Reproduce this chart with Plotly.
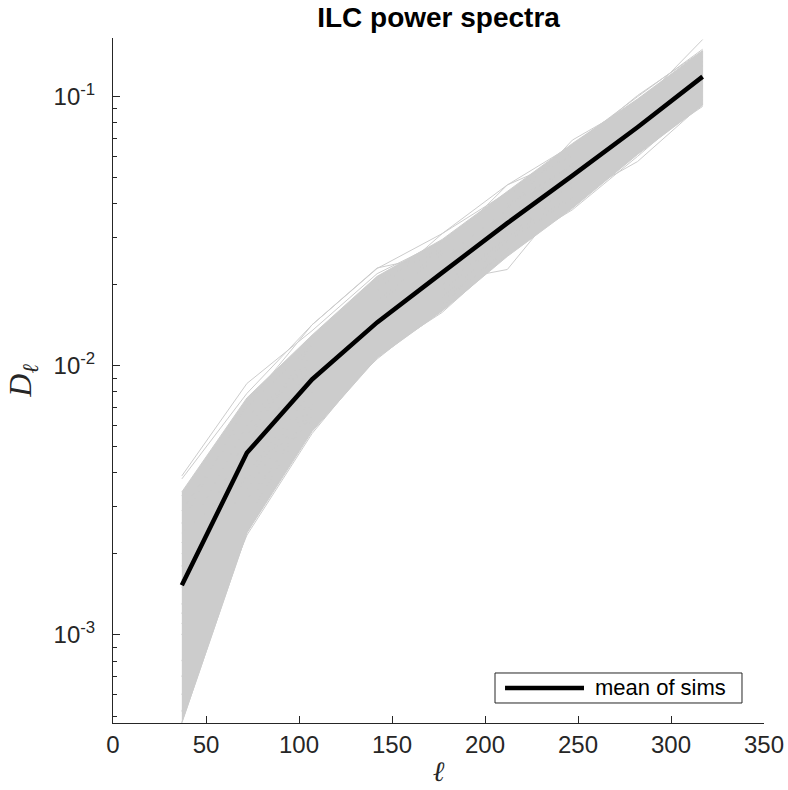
import plotly.graph_objects as go

# Multipole bin centres
ell = [37, 72, 107, 142, 177, 212, 247, 282, 317]

# Mean of simulations (black curve)
mean_dl = [1.53e-3, 4.75e-3, 8.9e-3, 1.45e-2, 2.22e-2, 3.39e-2, 5.09e-2, 7.7e-2, 0.1187]

# Dense region of the simulation bundle (lower / upper edges)
band_lo = [4.72e-4, 2.4e-3, 5.7e-3, 1.07e-2, 1.6e-2, 2.55e-2, 3.85e-2, 6.1e-2, 9.3e-2]
band_hi = [3.4e-3, 7.6e-3, 1.3e-2, 2.15e-2, 2.95e-2, 4.45e-2, 6.7e-2, 9.8e-2, 0.148]

# Individual simulations (visible edge / outlier curves)
sim01 = [3.9e-3, 8.6e-3, 1.35e-2, 2.2e-2, 2.9e-2, 4.3e-2, 6.2e-2, 9.0e-2, 0.135]
sim02 = [3.8e-3, 7.9e-3, 1.42e-2, 2.3e-2, 3.1e-2, 4.7e-2, 6.6e-2, 0.100, 0.150]
sim03 = [2.6e-3, 7.2e-3, 1.42e-2, 2.31e-2, 2.6e-2, 4.0e-2, 5.5e-2, 8.0e-2, 0.120]
sim04 = [1.2e-3, 4.8e-3, 9.5e-3, 1.5e-2, 2.3e-2, 3.6e-2, 5.6e-2, 9.2e-2, 0.163]
sim05 = [1.0e-3, 4.0e-3, 8.0e-3, 1.3e-2, 2.05e-2, 2.28e-2, 4.5e-2, 7.0e-2, 0.110]
sim06 = [8.0e-4, 3.2e-3, 6.5e-3, 1.2e-2, 1.8e-2, 2.9e-2, 4.2e-2, 5.74e-2, 0.094]
sim07 = [4.72e-4, 2.4e-3, 6.0e-3, 1.15e-2, 1.9e-2, 3.0e-2, 4.6e-2, 7.2e-2, 0.110]
sim08 = [6.0e-4, 2.35e-3, 5.6e-3, 1.1e-2, 1.7e-2, 2.7e-2, 4.0e-2, 6.3e-2, 0.100]
sim09 = [1.5e-3, 4.5e-3, 8.5e-3, 1.4e-2, 2.0e-2, 3.0e-2, 4.3e-2, 6.3e-2, 0.092]
sim10 = [2.0e-3, 4.2e-3, 6.2e-3, 1.06e-2, 1.65e-2, 3.0e-2, 4.8e-2, 7.0e-2, 0.115]
sim11 = [1.8e-3, 5.5e-3, 1.1e-2, 1.9e-2, 3.1e-2, 4.4e-2, 6.3e-2, 9.0e-2, 0.130]
sim12 = [2.2e-3, 6.0e-3, 1.05e-2, 1.75e-2, 2.7e-2, 4.7e-2, 6.0e-2, 8.5e-2, 0.125]
sim13 = [1.3e-3, 5.0e-3, 9.8e-3, 1.6e-2, 2.5e-2, 3.8e-2, 6.9e-2, 9.5e-2, 0.140]
sim14 = [2.9e-3, 6.5e-3, 1.0e-2, 1.7e-2, 2.6e-2, 4.2e-2, 6.4e-2, 0.101, 0.148]
sim15 = [7.0e-4, 3.0e-3, 7.0e-3, 1.2e-2, 1.75e-2, 2.7e-2, 3.8e-2, 6.0e-2, 0.097]
sim16 = [1.1e-3, 3.5e-3, 7.2e-3, 1.1e-2, 1.58e-2, 2.6e-2, 4.1e-2, 6.6e-2, 0.105]
sim17 = [3.3e-3, 7.0e-3, 1.2e-2, 1.8e-2, 2.4e-2, 3.5e-2, 5.0e-2, 7.5e-2, 0.120]
sim18 = [5.2e-4, 2.7e-3, 6.8e-3, 1.3e-2, 2.1e-2, 3.2e-2, 5.3e-2, 8.0e-2, 0.125]
sim19 = [1.6e-3, 5.2e-3, 1.2e-2, 2.05e-2, 2.75e-2, 3.9e-2, 5.6e-2, 8.5e-2, 0.130]
sim20 = [2.4e-3, 3.8e-3, 7.5e-3, 1.35e-2, 2.2e-2, 3.4e-2, 5.2e-2, 7.8e-2, 0.108]
sims = [sim01, sim02, sim03, sim04, sim05, sim06, sim07, sim08, sim09, sim10,
        sim11, sim12, sim13, sim14, sim15, sim16, sim17, sim18, sim19, sim20]

# Axis ticks
x_ticks = [0, 50, 100, 150, 200, 250, 300, 350]
y_ticks = [1e-3, 1e-2, 1e-1]
y_ticktext = ["10<sup>-3</sup>", "10<sup>-2</sup>", "10<sup>-1</sup>"]
y_minor = [5e-4, 6e-4, 7e-4, 8e-4, 9e-4,
           2e-3, 3e-3, 4e-3, 5e-3, 6e-3, 7e-3, 8e-3, 9e-3,
           2e-2, 3e-2, 4e-2, 5e-2, 6e-2, 7e-2, 8e-2, 9e-2]
y_range = [-3.327, -0.782]

GRAY = "#cccccc"
AX = "#262626"

fig = go.Figure()

# dense bundle of simulations
fig.add_trace(go.Scatter(
    x=ell + ell[::-1], y=band_hi + band_lo[::-1],
    fill="toself", fillcolor=GRAY, mode="lines",
    line=dict(color=GRAY, width=1), showlegend=False, hoverinfo="skip"))

for s in sims:
    fig.add_trace(go.Scatter(x=ell, y=s, mode="lines",
                             line=dict(color=GRAY, width=1),
                             showlegend=False, hoverinfo="skip"))

fig.add_trace(go.Scatter(x=ell, y=mean_dl, mode="lines",
                         line=dict(color="black", width=4.5),
                         name="mean of sims", showlegend=False))

# legend box (MATLAB style, bottom-right)
fig.add_shape(type="rect", xref="paper", yref="paper",
              x0=0.5868, x1=0.9662, y0=0.0292, y1=0.073,
              line=dict(color=AX, width=1), fillcolor="white", layer="above")
fig.add_shape(type="line", xref="paper", yref="paper",
              x0=0.6022, x1=0.7235, y0=0.0511, y1=0.0511,
              line=dict(color="black", width=4.5), layer="above")
fig.add_annotation(xref="paper", yref="paper", x=0.7373, y=0.0511,
                   xanchor="left", yanchor="middle", showarrow=False,
                   text="mean of sims",
                   font=dict(family="Liberation Sans, Arial", size=22, color="black"))

fig.update_layout(
    width=788, height=790,
    margin=dict(l=113, r=24, t=38, b=67),
    paper_bgcolor="white", plot_bgcolor="white",
    font=dict(family="Liberation Sans, Arial", color=AX),
    title=dict(text="<b>ILC power spectra</b>", x=0.5565, xanchor="center",
               y=0.978, yanchor="middle", yref="container",
               font=dict(family="Liberation Sans, Arial", size=28, color="black")),
    showlegend=False,
)

fig.update_xaxes(range=[0, 350], tickvals=x_ticks, ticktext=[str(v) for v in x_ticks],
                 automargin=False,
                 showline=True, linecolor=AX, linewidth=1, mirror=False,
                 ticks="inside", ticklen=7, tickcolor=AX, tickwidth=1,
                 showgrid=False, zeroline=False,
                 tickfont=dict(size=24, color=AX), ticklabelstandoff=0,
                 title=dict(text="<i>ℓ</i>", standoff=4,
                            font=dict(family="DejaVu Serif, Liberation Serif", size=28, color=AX)))

fig.update_yaxes(type="log", range=y_range, tickvals=y_ticks, ticktext=y_ticktext,
                 automargin=False,
                 showline=True, linecolor=AX, linewidth=1, mirror=False,
                 ticks="inside", ticklen=7, tickcolor=AX, tickwidth=1,
                 minor=dict(tickvals=y_minor, ticks="inside", ticklen=4, tickcolor=AX, tickwidth=1),
                 showgrid=False, zeroline=False,
                 tickfont=dict(size=24, color=AX), ticklabelstandoff=12,
                 title=dict(text="<i>D</i><sub><i>ℓ</i></sub>", standoff=12,
                            font=dict(family="Liberation Serif, DejaVu Serif", size=32, color=AX)))

fig.write_html("out.html")
